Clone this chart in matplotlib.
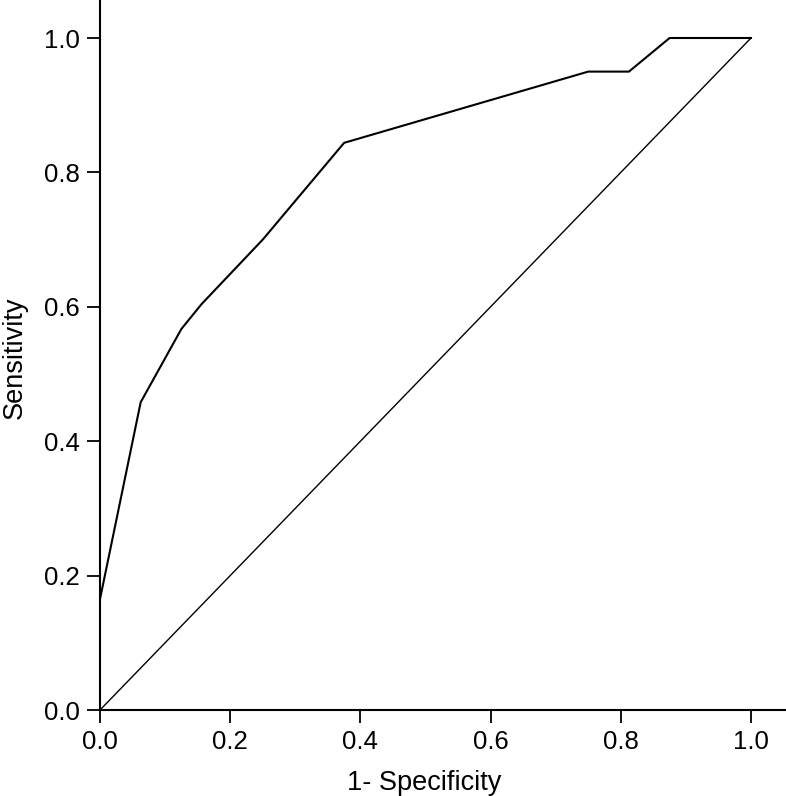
import matplotlib
matplotlib.use("Agg")
import matplotlib.pyplot as plt

# ROC curve data (1 - specificity, sensitivity)
fpr = [0.0, 0.0625, 0.125, 0.156, 0.25, 0.375, 0.75, 0.8125, 0.875, 1.0]
tpr = [0.165, 0.458, 0.567, 0.604, 0.70, 0.844, 0.95, 0.95, 1.0, 1.0]
ref_x = [0.0, 1.0]
ref_y = [0.0, 1.0]
ticks = [0.0, 0.2, 0.4, 0.6, 0.8, 1.0]
tick_labels = ["0.0", "0.2", "0.4", "0.6", "0.8", "1.0"]

plt.rcParams['font.family'] = ['Liberation Sans', 'DejaVu Sans']

fig = plt.figure(figsize=(7.86, 7.96), dpi=100)
ax = fig.add_axes([100/786, 86/796, 686/786, 710/796])

ax.plot(fpr, tpr, color='black', lw=1.5, solid_joinstyle='miter')
ax.plot(ref_x, ref_y, color='black', lw=1.0)

ax.set_xlim(0, 686/651)
ax.set_ylim(0, 710/672)
ax.set_xticks(ticks)
ax.set_xticklabels(tick_labels)
ax.set_yticks(ticks)
ax.set_yticklabels(tick_labels)

for s in ['top', 'right']:
    ax.spines[s].set_visible(False)
for s in ['left', 'bottom']:
    ax.spines[s].set_linewidth(1.5)

ax.tick_params(axis='both', direction='out', length=9.5, width=1.3,
               labelsize=18.5, pad=5)

ax.set_xlabel("1- Specificity", fontsize=19.5)
ax.set_ylabel("Sensitivity", fontsize=19.5)
ax.xaxis.set_label_coords((424.5 - 100) / 686, (710 - 770) / 710)
ax.yaxis.set_label_coords((28 - 100) / 686, (710 - 358) / 710)

fig.savefig("out.png", dpi=100)
